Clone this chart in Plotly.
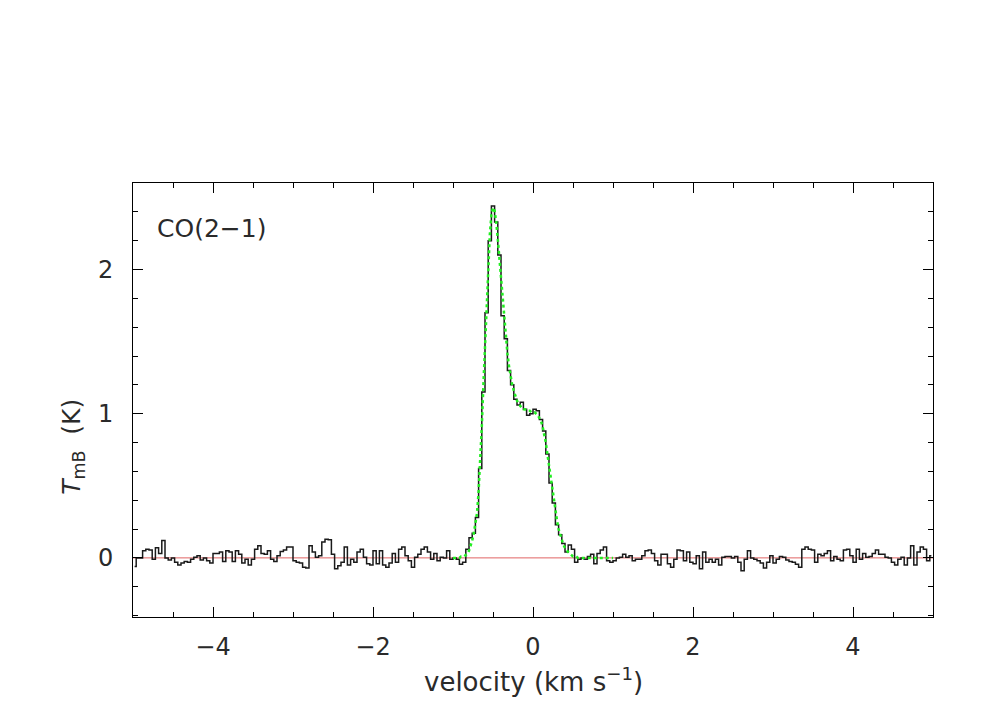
import numpy as np
import plotly.graph_objects as go

# channel grid (km/s)
v_first = -4.98
dv = 0.04

# T_mB (K) per channel
tmb_left = [
    -0.06, 0.00, 0.00, 0.05, 0.06, 0.055, -0.01, 0.07, 0.03, 0.12,
    0.00, -0.015, 0.00, -0.03, -0.05, -0.035, -0.025, -0.03, -0.01, 0.005,
    0.015, -0.015, 0.00, -0.02, -0.035, 0.03, 0.03, 0.04, -0.025, 0.05,
    0.04, -0.025, 0.05, 0.025, -0.035, -0.01, -0.05, -0.01, 0.06, 0.085,
    0.03, 0.025, 0.05, -0.01, -0.025, 0.015, 0.045, 0.055, 0.075, 0.075,
    -0.02, -0.03, -0.035, -0.065,
]
tmb_mid = [
    -0.07, 0.085, 0.04, 0.005, 0.015, 0.11, 0.13, 0.125, 0.025, -0.075,
    -0.055, -0.03, 0.075, -0.05, -0.01, -0.03, 0.04, 0.06, 0.005, -0.04,
    -0.05, 0.05, -0.04, 0.05, -0.05, -0.065, -0.035, 0.03, -0.03, 0.06,
    0.075, 0.015, -0.02, -0.065, 0.005, 0.025, 0.06, 0.075, 0.04, -0.01,
    0.03, -0.02, 0.005, 0.00, 0.05, -0.01, 0.00, -0.01, -0.045, -0.03,
]
tmb_line = [
    0.06, 0.14, 0.17, 0.28, 0.62, 1.15, 1.70, 2.20, 2.44, 2.33,
    2.10, 1.68, 1.52, 1.30, 1.20, 1.10, 1.06, 1.08, 1.03, 0.99,
    1.00, 1.03, 1.02, 0.96, 0.88, 0.72, 0.52, 0.38, 0.23, 0.16,
    0.10, 0.04, 0.09, 0.06, -0.03, -0.01,
]
tmb_right = [
    0.00, -0.01, 0.01, 0.025, -0.04, 0.03, 0.055, 0.075, -0.02, -0.03,
    -0.02, 0.00, 0.005, 0.025, 0.005, 0.015, -0.02, -0.01, -0.01, 0.015,
    0.05, 0.055, 0.03, -0.02, -0.05, 0.025, 0.025, -0.04, -0.065, -0.01,
    0.055, 0.05, -0.02, 0.04, -0.03, -0.04, 0.015, -0.075, 0.04, -0.03,
    -0.01, -0.03, -0.01, -0.05, 0.005, 0.01, 0.01, 0.00, 0.01, -0.03,
    -0.09, -0.01, 0.05,
]
tmb_far = [
    0.00, -0.01, -0.02, -0.035, -0.07, -0.03, 0.015, -0.035, -0.01, 0.01,
    0.005, -0.015, -0.025, -0.03, -0.045, -0.065, 0.06, 0.075, 0.06, 0.055,
    -0.03, 0.025, 0.015, 0.03, 0.05, -0.02, 0.01, -0.01, -0.02, 0.055,
    0.06, 0.015, -0.03, 0.06, -0.01, 0.03, 0.005, 0.01, 0.03, 0.055,
    0.025, 0.025, 0.005, 0.00, -0.03, -0.05, -0.01, 0.005, -0.05, 0.00,
    0.085, -0.05, 0.04, 0.075, 0.06, -0.02, 0.015,
]
tmb = tmb_left + tmb_mid + tmb_line + tmb_right + tmb_far
vel = np.round(v_first + dv * np.arange(len(tmb)), 3)

# fitted profile (green dotted), -1.0 .. 1.0 km/s every 0.02
fit_start = -1.0
fit_step = 0.02
fit_tmb = [
    0.00, 0.00, 0.00, 0.00, 0.00, 0.01, 0.01, 0.01, 0.02, 0.03,
    0.05, 0.08, 0.12, 0.17, 0.23, 0.31, 0.46, 0.66, 0.91, 1.20,
    1.49, 1.78, 2.03, 2.24, 2.38, 2.43, 2.41, 2.33, 2.21, 2.07,
    1.92, 1.78, 1.64, 1.52, 1.42, 1.33, 1.26, 1.20, 1.16, 1.12,
    1.09, 1.07, 1.05, 1.04, 1.03, 1.03, 1.02, 1.02, 1.02, 1.01,
    1.01, 1.01, 1.00, 0.99, 0.97, 0.95, 0.91, 0.86, 0.80, 0.72,
    0.64, 0.55, 0.47, 0.39, 0.32, 0.26, 0.20, 0.16, 0.12, 0.09,
    0.07, 0.05, 0.04, 0.03, 0.02, 0.01, 0.01, 0.01, 0.00, 0.00,
    0.00, 0.00, 0.00, 0.00, 0.00, 0.00, 0.00, 0.00, 0.00, 0.00,
    0.00, 0.00, 0.00, 0.00, 0.00, 0.00, 0.00, 0.00, 0.00, 0.00,
    0.00,
]
fit_vel = np.round(fit_start + fit_step * np.arange(len(fit_tmb)), 3)

# zero baseline
base_vel = [-5, 5]
base_tmb = [0, 0]

FONT = "DejaVu Sans, Liberation Sans, sans-serif"
TXT = "#2a2a2a"

fig = go.Figure()

fig.add_trace(go.Scatter(x=base_vel, y=base_tmb, mode="lines",
                         line=dict(color="#e06464", width=1), hoverinfo="skip"))
fig.add_trace(go.Scatter(x=vel, y=tmb, mode="lines",
                         line=dict(color="#1a1a1a", width=1.5, shape="hvh")))
fig.add_trace(go.Scatter(x=fit_vel, y=fit_tmb, mode="lines",
                         line=dict(color="#22ee22", width=2.5, dash="dot")))

axis_common = dict(
    showgrid=False, zeroline=False,
    showline=True, linecolor="black", linewidth=1, mirror="ticks",
    ticks="inside", ticklen=10, tickwidth=1, tickcolor="black",
    tickfont=dict(family=FONT, size=24, color=TXT),
)

fig.update_xaxes(range=[-5, 5], tickmode="linear", tick0=0, dtick=2,
                 ticklabelstandoff=8,
                 minor=dict(ticks="inside", dtick=0.5, ticklen=5, tickcolor="black", showgrid=False),
                 **axis_common)
fig.update_yaxes(range=[-0.41, 2.6], tickmode="linear", tick0=0, dtick=1,
                 ticklabelstandoff=14,
                 minor=dict(ticks="inside", dtick=0.2, ticklen=5, tickcolor="black", showgrid=False),
                 **axis_common)

fig.add_annotation(text="CO(2−1)", xref="paper", yref="paper", x=0.027, y=0.896,
                   xanchor="left", yanchor="middle", showarrow=False,
                   font=dict(family=FONT, size=25, color=TXT))
fig.add_annotation(text="velocity (km s<sup>−1</sup>)", xref="paper", yref="paper",
                   x=0.5, y=0, yanchor="top", yshift=-44, showarrow=False,
                   font=dict(family=FONT, size=26, color=TXT))
fig.add_annotation(text="<i>T</i><sub>mB</sub>  (K)", xref="paper", yref="paper",
                   x=0, y=0.392, xshift=-78, textangle=-90, showarrow=False,
                   font=dict(family=FONT, size=25, color=TXT))

# the page body adds an 8 px offset, so the figure is a little smaller
fig.update_layout(
    width=994, height=694,
    margin=dict(l=125, r=69, t=175, b=85),
    plot_bgcolor="white", paper_bgcolor="white",
    showlegend=False,
)

fig.write_html("out.html")
